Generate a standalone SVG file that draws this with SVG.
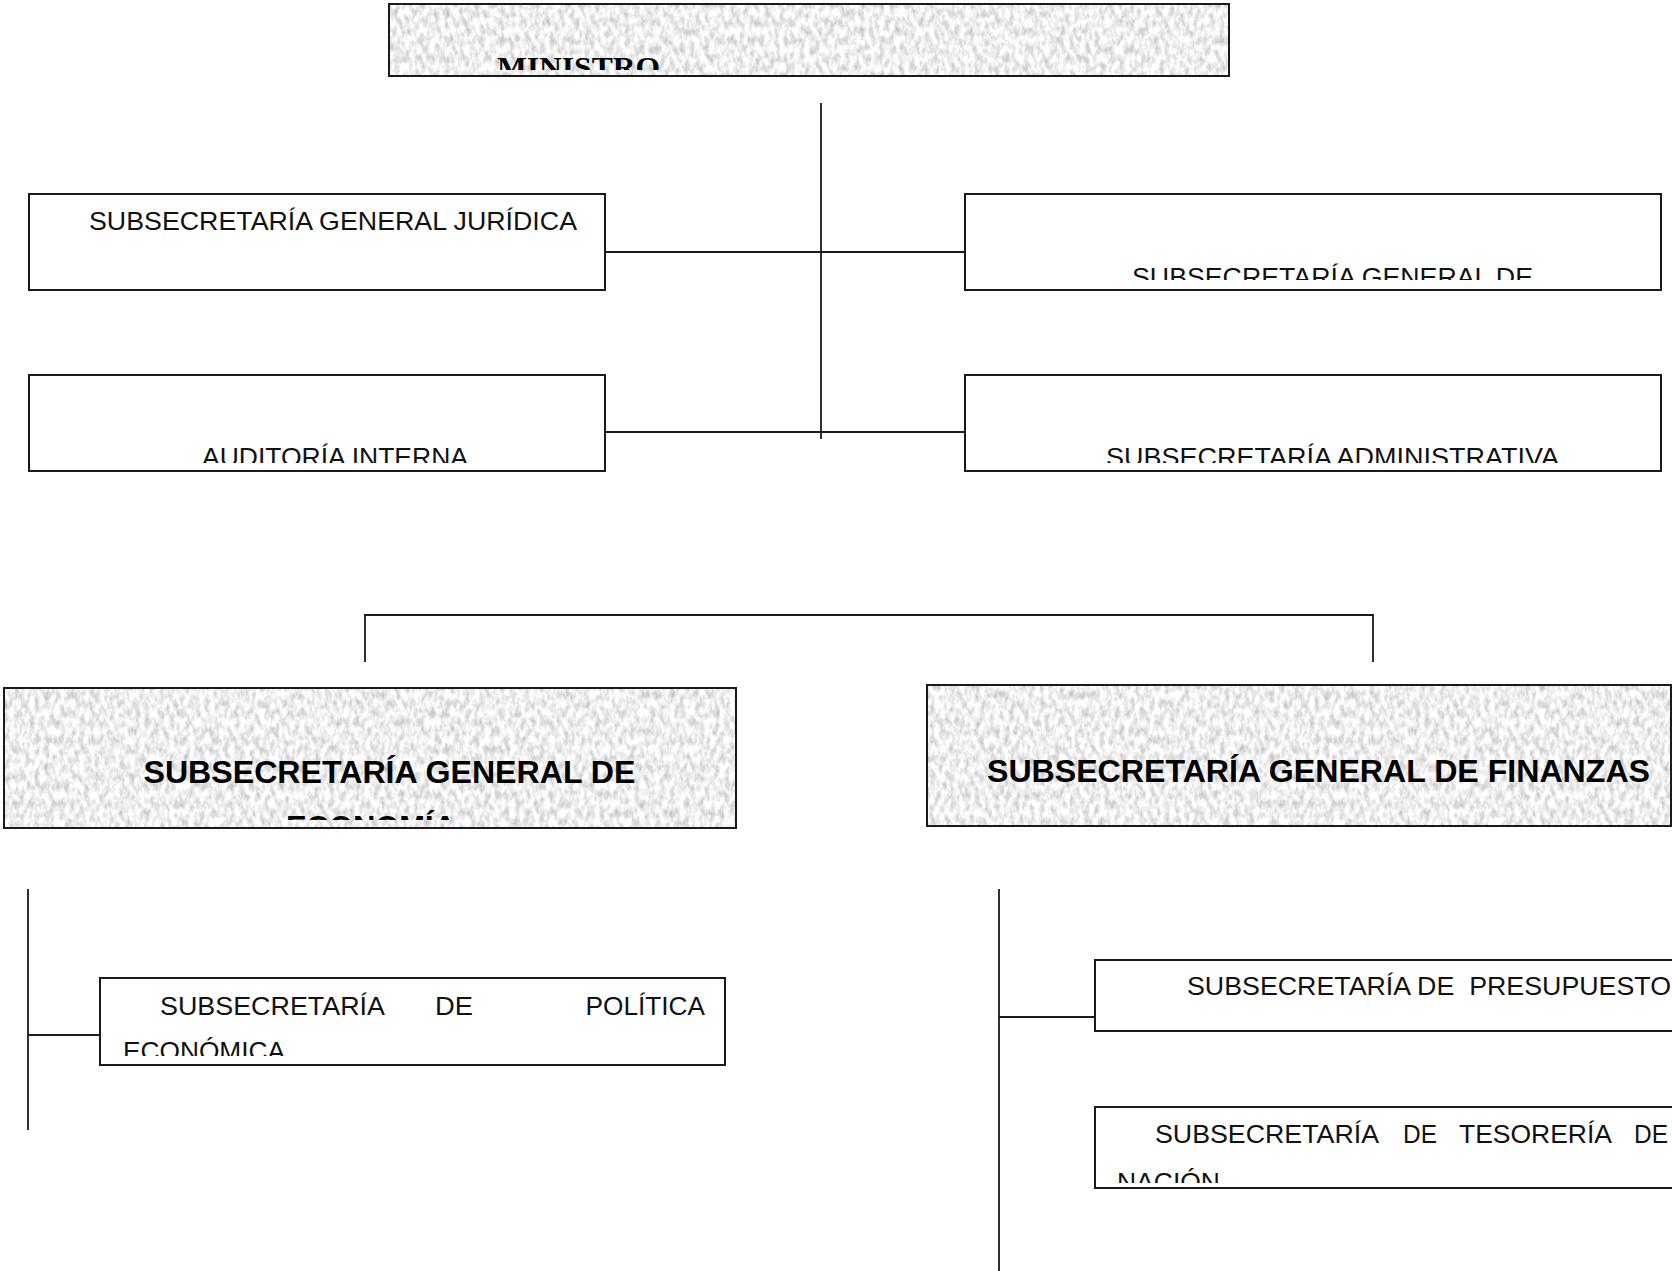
<svg xmlns="http://www.w3.org/2000/svg" width="1672" height="1271" viewBox="0 0 1672 1271">
  <style>
    .box { fill: #ffffff; stroke: #1a1a1a; stroke-width: 2; }
    .paper { fill: #ffffff; filter: url(#grain); }
    .frame { fill: none; stroke: #1a1a1a; stroke-width: 2; }
    .link { fill: none; stroke: #1a1a1a; stroke-width: 1.8; }
    .lbl { font-family: "Liberation Sans", Arial, sans-serif; font-size: 26px; fill: #111; }
    .head { font-family: "Liberation Sans", Arial, sans-serif; font-size: 31px; font-weight: bold; fill: #000; }
    .serif { font-family: "Liberation Serif", "Times New Roman", serif; font-size: 30px; font-weight: bold; fill: #000; }
  </style>
  <defs>
    <!-- light grey speckled paper fill for the main offices -->
    <filter id="grain" x="0" y="0" width="100%" height="100%" color-interpolation-filters="sRGB">
      <feTurbulence type="fractalNoise" baseFrequency="0.2 0.11" numOctaves="3" seed="7" result="n"/>
      <feColorMatrix in="n" type="matrix" values="0.45 0 0 0 0.71  0.45 0 0 0 0.71  0.45 0 0 0 0.71  0 0 0 0 1"/>
      <feComposite in2="SourceGraphic" operator="in"/>
    </filter>
    <clipPath id="c-min"><rect x="389" y="4" width="840" height="66"/></clipPath>
    <clipPath id="c-fin"><rect x="965" y="194" width="696" height="86"/></clipPath>
    <clipPath id="c-aud"><rect x="29" y="375" width="576" height="88"/></clipPath>
    <clipPath id="c-adm"><rect x="965" y="375" width="696" height="88"/></clipPath>
    <clipPath id="c-eco"><rect x="4" y="688" width="732" height="132"/></clipPath>
    <clipPath id="c-pol"><rect x="100" y="978" width="625" height="78"/></clipPath>
    <clipPath id="c-tes"><rect x="1095" y="1107" width="580" height="76"/></clipPath>
  </defs>

  <!-- connectors -->
  <g id="connectors">
    <line class="link" x1="821" y1="103" x2="821" y2="439"/>
    <line class="link" x1="605" y1="252" x2="965" y2="252"/>
    <line class="link" x1="605" y1="432" x2="965" y2="432"/>
    <polyline class="link" points="365,662 365,615 1373,615 1373,662"/>
    <line class="link" x1="28" y1="889" x2="28" y2="1130"/>
    <line class="link" x1="28" y1="1035" x2="100" y2="1035"/>
    <line class="link" x1="999" y1="889" x2="999" y2="1271"/>
    <line class="link" x1="999" y1="1017" x2="1095" y2="1017"/>
  </g>

  <g id="ministro">
    <rect class="paper" x="389" y="4" width="840" height="72"/>
    <rect class="frame" x="389" y="4" width="840" height="72"/>
    <text class="serif" x="497" y="77" textLength="163" lengthAdjust="spacingAndGlyphs" clip-path="url(#c-min)">MINISTRO</text>
  </g>

  <g id="juridica">
    <rect class="box" x="29" y="194" width="576" height="96"/>
    <text class="lbl" x="89" y="230" textLength="488" lengthAdjust="spacingAndGlyphs">SUBSECRETARÍA GENERAL JURÍDICA</text>
  </g>

  <g id="general-de">
    <rect class="box" x="965" y="194" width="696" height="96"/>
    <text class="lbl" x="1132" y="286" textLength="401" lengthAdjust="spacingAndGlyphs" clip-path="url(#c-fin)">SUBSECRETARÍA GENERAL DE</text>
  </g>

  <g id="auditoria">
    <rect class="box" x="29" y="375" width="576" height="96"/>
    <text class="lbl" x="202" y="466" textLength="266" lengthAdjust="spacingAndGlyphs" clip-path="url(#c-aud)">AUDITORÍA INTERNA</text>
  </g>

  <g id="administrativa">
    <rect class="box" x="965" y="375" width="696" height="96"/>
    <text class="lbl" x="1106" y="466" textLength="453" lengthAdjust="spacingAndGlyphs" clip-path="url(#c-adm)">SUBSECRETARÍA ADMINISTRATIVA</text>
  </g>

  <g id="economia">
    <rect class="paper" x="4" y="688" width="732" height="140"/>
    <rect class="frame" x="4" y="688" width="732" height="140"/>
    <g clip-path="url(#c-eco)">
      <text class="head" x="143.5" y="783" textLength="492" lengthAdjust="spacingAndGlyphs">SUBSECRETARÍA GENERAL DE</text>
      <text class="head" x="286" y="838" textLength="170" lengthAdjust="spacingAndGlyphs">ECONOMÍA</text>
    </g>
  </g>

  <g id="finanzas">
    <rect class="paper" x="927" y="685" width="744" height="141"/>
    <rect class="frame" x="927" y="685" width="744" height="141"/>
    <text class="head" x="987" y="782" textLength="663" lengthAdjust="spacingAndGlyphs">SUBSECRETARÍA GENERAL DE FINANZAS</text>
  </g>

  <g id="politica">
    <rect class="box" x="100" y="978" width="625" height="87"/>
    <g clip-path="url(#c-pol)">
      <text class="lbl" x="160" y="1015" textLength="225" lengthAdjust="spacingAndGlyphs">SUBSECRETARÍA</text>
      <text class="lbl" x="435" y="1015" textLength="38" lengthAdjust="spacingAndGlyphs">DE</text>
      <text class="lbl" x="585.5" y="1015" textLength="119.5" lengthAdjust="spacingAndGlyphs">POLÍTICA</text>
      <text class="lbl" x="123" y="1060" textLength="162" lengthAdjust="spacingAndGlyphs">ECONÓMICA</text>
    </g>
  </g>

  <g id="presupuesto">
    <rect class="box" x="1095" y="960" width="600" height="71"/>
    <text class="lbl" x="1187" y="995" textLength="484" lengthAdjust="spacingAndGlyphs" xml:space="preserve">SUBSECRETARÍA DE  PRESUPUESTO</text>
  </g>

  <g id="tesoreria">
    <rect class="box" x="1095" y="1107" width="600" height="81"/>
    <g clip-path="url(#c-tes)">
      <text class="lbl" x="1155" y="1143" textLength="224" lengthAdjust="spacingAndGlyphs">SUBSECRETARÍA</text>
      <text class="lbl" x="1403" y="1143" textLength="34" lengthAdjust="spacingAndGlyphs">DE</text>
      <text class="lbl" x="1459" y="1143" textLength="153" lengthAdjust="spacingAndGlyphs">TESORERÍA</text>
      <text class="lbl" x="1634" y="1143" textLength="34" lengthAdjust="spacingAndGlyphs">DE</text>
      <text class="lbl" x="1117" y="1191" textLength="103" lengthAdjust="spacingAndGlyphs">NACIÓN</text>
    </g>
  </g>
</svg>
